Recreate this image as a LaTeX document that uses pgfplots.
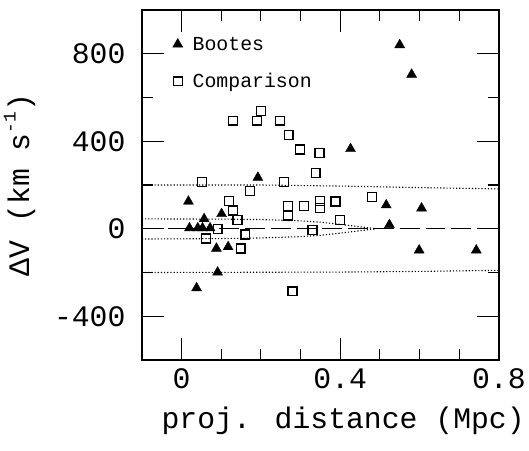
\documentclass[border=0pt]{standalone}
\usepackage{fontspec}
\setmainfont{Liberation Mono}
\usepackage{pgfplots}
\pgfplotsset{compat=1.18}
\begin{document}
\begin{tikzpicture}
\begin{axis}[
  scale only axis, width=360pt, height=353pt,
  xmin=-0.1, xmax=0.8, ymin=-600, ymax=1000,
  xtick={0,0.4,0.8}, xticklabels={0,0.4,0.8},
  minor x tick num=3,
  ytick={-400,0,400,800}, yticklabels={-400,0,400,800},
  minor y tick num=1,
  tick align=inside,
  major tick length=22pt, minor tick length=11pt,
  every tick/.style={black, line width=1.2pt},
  axis line style={line width=1.5pt},
  tick label style={font=\fontsize{30}{34}\selectfont},
  yticklabel style={xshift=-13pt},
  xticklabel style={yshift=-5pt},
  xlabel={proj. distance (Mpc)},
  ylabel={ΔV (km s\raisebox{0.45em}{\fontsize{18}{18}\selectfont -1})},
  label style={font=\fontsize{30}{34}\selectfont},
  xlabel style={xshift=23pt, yshift=-12pt},
  ylabel style={yshift=12pt},
  legend style={draw=none, fill=none, at={(rel axis cs:0,1)}, anchor=north west,
    font=\fontsize{20}{24}\selectfont, row sep=18pt, xshift=28pt, yshift=-23pt,
    /tikz/every odd column/.append style={column sep=8pt}},
  legend cell align=left,
]
\addplot[only marks, mark=triangle*, mark size=5.8pt, black] coordinates {
(0.55,840) (0.58,705) (0.426,365) (0.516,108) (0.605,94) (0.524,18)
(0.599,-98) (0.743,-98) (0.1925,234) (0.0175,125) (0.101,68) (0.057,45)
(0.020,3) (0.041,3) (0.053,3) (0.072,3)
(0.088,-90) (0.1175,-83) (0.091,-199) (0.038,-271)
};
\addlegendentry{Bootes}
\addplot[only marks, mark=square, mark size=4.5pt, black, mark options={line width=1.3pt}] coordinates {
(0.13,494) (0.19,494) (0.20,539) (0.249,494) (0.27,429) (0.299,362) (0.348,347)
(0.338,256) (0.259,214) (0.172,173) (0.269,103) (0.269,60) (0.309,103)
(0.349,128) (0.349,94) (0.388,125) (0.48,146) (0.40,41) (0.33,-5) (0.28,-286)
(0.051,215) (0.12,128) (0.13,83) (0.141,41) (0.091,0) (0.161,-26) (0.062,-45) (0.149,-90)
};
\addlegendentry{Comparison}
\addplot[black, line width=1.1pt, dash pattern=on 1.2pt off 2pt, forget plot] coordinates {
(-0.1,200) (0.2,200) (0.4,195) (0.6,188) (0.8,182)};
\addplot[black, line width=1.1pt, dash pattern=on 1.2pt off 2pt, forget plot] coordinates {
(-0.1,-200) (0.4,-198) (0.6,-195) (0.8,-190)};
\addplot[black, line width=1.1pt, dash pattern=on 1.2pt off 2pt, forget plot] coordinates {
(-0.1,45) (0.1,44) (0.2,42) (0.3,36) (0.35,30) (0.4,20) (0.45,9) (0.49,0)};
\addplot[black, line width=1.1pt, dash pattern=on 1.2pt off 2pt, forget plot] coordinates {
(-0.1,-47) (0.1,-45) (0.2,-42) (0.3,-36) (0.35,-30) (0.4,-20) (0.45,-9) (0.49,0)};
\addplot[black, line width=0.9pt, dash pattern=on 20pt off 6pt, forget plot] coordinates {
(-0.1,0) (0.8,0)};
\end{axis}
\path (current axis.south west) ++(-143pt,-91pt);
\path (current axis.north east) ++(26pt,10pt);
\end{tikzpicture}
\end{document}
